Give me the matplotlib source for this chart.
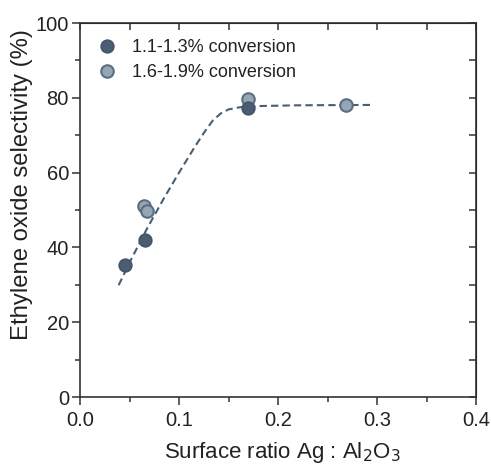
import matplotlib
matplotlib.use('Agg')
from matplotlib import pyplot as plt
from matplotlib.ticker import MultipleLocator

plt.rcParams['font.family'] = ['Liberation Sans', 'DejaVu Sans']

# data
low_x = [0.045, 0.066, 0.170]
low_y = [35.2, 42.0, 77.3]
high_x = [0.065, 0.068, 0.170, 0.269]
high_y = [51.2, 49.7, 79.7, 78.1]
fit_x = [0.039, 0.052, 0.068, 0.084, 0.100, 0.115, 0.125, 0.134, 0.142, 0.150, 0.162, 0.180, 0.220, 0.295]
fit_y = [29.9, 37.0, 45.2, 52.8, 60.0, 66.5, 70.6, 73.9, 75.8, 76.9, 77.5, 77.8, 78.0, 78.1]

dark = '#4b5e71'
light = '#97a6b5'
edge = '#5a6e82'
txt = '#222222'

fig = plt.figure(figsize=(4.91, 4.66), dpi=100)
ax = fig.add_axes([0.163, 0.148, 0.8065, 0.8026])

ax.plot(fit_x, fit_y, ls=(0, (3.5, 2)), c='#4a5e72', lw=1.5, zorder=1)
ax.plot(low_x, low_y, 'o', ms=9, mfc=dark, mec='#42556a', mew=1.3, ls='none',
        label='1.1-1.3% conversion', zorder=3)
ax.plot(high_x, high_y, 'o', ms=9, mfc=light, mec=edge, mew=1.5, ls='none',
        label='1.6-1.9% conversion', zorder=2)

ax.set_xlim(0, 0.4)
ax.set_ylim(0, 100)
ax.xaxis.set_ticks([0, 0.1, 0.2, 0.3, 0.4])
ax.set_xticklabels(['0.0', '0.1', '0.2', '0.3', '0.4'])
ax.xaxis.set_minor_locator(MultipleLocator(0.05))
ax.yaxis.set_major_locator(MultipleLocator(20))
ax.yaxis.set_minor_locator(MultipleLocator(10))

for s in ax.spines.values():
    s.set_color('#333333')
    s.set_linewidth(1.2)

ax.tick_params(which='both', direction='out', color='#333333', labelcolor=txt, labelsize=14.5, width=1.1)
ax.tick_params(which='major', length=6)
ax.tick_params(which='minor', length=3.5)
ax.tick_params(axis='y', pad=2)
ax.tick_params(axis='x', pad=4)

# inward ticks on top and right
ax2 = ax.secondary_xaxis('top')
ax2.xaxis.set_major_locator(MultipleLocator(0.05))
ax2.tick_params(direction='in', length=5, width=1.1, color='#333333', labeltop=False)
ax3 = ax.secondary_yaxis('right')
ax3.yaxis.set_major_locator(MultipleLocator(10))
ax3.tick_params(direction='in', length=5, width=1.1, color='#333333', labelright=False)

ax.set_xlabel('Surface ratio Ag : Al$_2$O$_3$', fontsize=16, color=txt)
ax.xaxis.set_label_coords(0.512, -0.115)
ax.set_ylabel('Ethylene oxide selectivity (%)', fontsize=17.2, color=txt)
ax.yaxis.set_label_coords(-0.119, 0.567)

ax.legend(loc='upper left', frameon=False, fontsize=13, handletextpad=0.8,
          borderaxespad=0.5, labelspacing=0.45, handlelength=1.2, labelcolor=txt)

plt.savefig('out.png', dpi=100)
